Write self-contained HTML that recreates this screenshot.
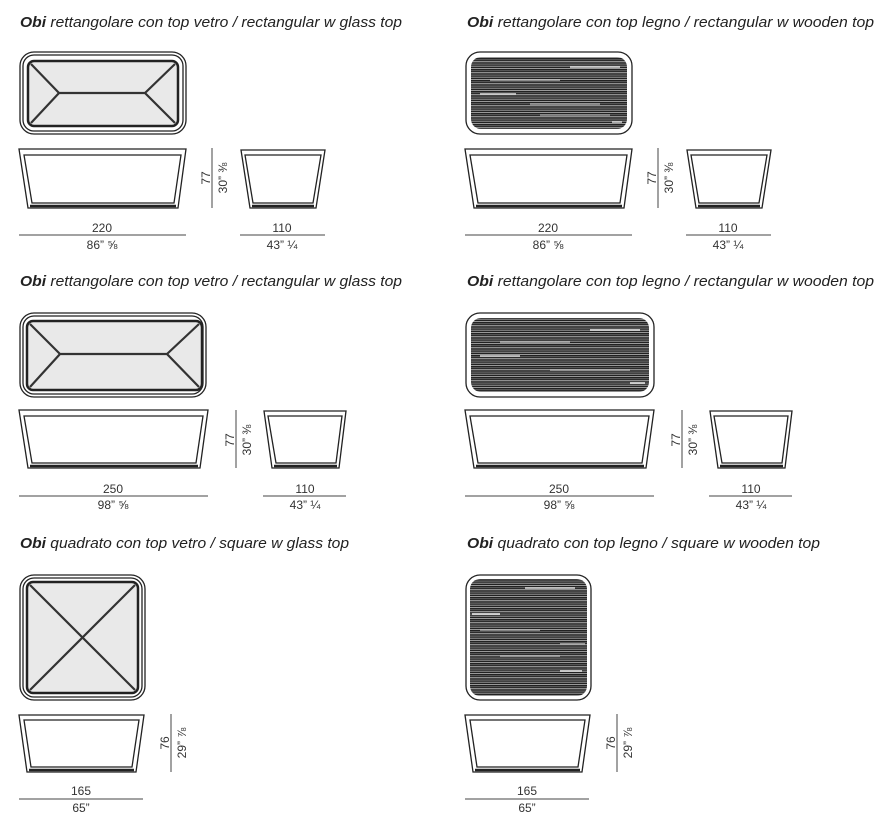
<!DOCTYPE html>
<html><head><meta charset="utf-8"><style>
html,body{margin:0;padding:0;background:#fff}
svg{display:block}
.t{font-family:"Liberation Sans",sans-serif;font-style:italic;font-size:15px;fill:#222}
.d{font-family:"Liberation Sans",sans-serif;font-size:12px;fill:#333;text-anchor:middle}
.o{fill:#fff;stroke:#222;stroke-width:1.3}
.i{fill:none;stroke:#222;stroke-width:1.3}
.dl{stroke:#444;stroke-width:1}
</style></head><body>
<svg width="892" height="827" viewBox="0 0 892 827" xmlns="http://www.w3.org/2000/svg">
<defs>
<pattern id="wd" width="12" height="11" patternUnits="userSpaceOnUse">
<rect width="12" height="11" fill="#222"/>
<rect y="0" width="12" height="1" fill="#777"/>
<rect y="2" width="12" height="1" fill="#999"/>
<rect y="4" width="12" height="1.2" fill="#555"/>
<rect y="6" width="12" height="0.8" fill="#aaa"/>
<rect y="7.5" width="12" height="1" fill="#666"/>
<rect y="9.5" width="12" height="0.8" fill="#888"/>
</pattern>
</defs>

<!-- TITLES -->
<text class="t" x="20" y="27" textLength="382" lengthAdjust="spacingAndGlyphs"><tspan font-weight="bold">Obi</tspan> rettangolare con top vetro / rectangular w glass top</text>
<text class="t" x="467" y="27" textLength="407" lengthAdjust="spacingAndGlyphs"><tspan font-weight="bold">Obi</tspan> rettangolare con top legno / rectangular w wooden top</text>
<text class="t" x="20" y="286" textLength="382" lengthAdjust="spacingAndGlyphs"><tspan font-weight="bold">Obi</tspan> rettangolare con top vetro / rectangular w glass top</text>
<text class="t" x="467" y="286" textLength="407" lengthAdjust="spacingAndGlyphs"><tspan font-weight="bold">Obi</tspan> rettangolare con top legno / rectangular w wooden top</text>
<text class="t" x="20" y="548" textLength="329" lengthAdjust="spacingAndGlyphs"><tspan font-weight="bold">Obi</tspan> quadrato con top vetro / square w glass top</text>
<text class="t" x="467" y="548" textLength="353" lengthAdjust="spacingAndGlyphs"><tspan font-weight="bold">Obi</tspan> quadrato con top legno / square w wooden top</text>

<!-- ===== SECTION 1 glass 220 ===== -->
<rect class="o" x="20" y="52" width="166" height="82" rx="14"/>
<rect class="i" x="23" y="55" width="160" height="76" rx="11"/>
<rect x="28" y="61" width="150" height="65" rx="6" fill="#e9e9e9" stroke="#222" stroke-width="2.5"/>
<g stroke="#333" stroke-width="2.2" fill="none">
<path d="M31 64 L59 93 L31 123 M59 93 L145 93 M175 64 L145 93 L175 123"/>
</g>
<!-- wood 220 -->
<rect class="o" x="466" y="52" width="166" height="82" rx="14"/>
<rect x="471" y="57" width="156" height="72" rx="10" fill="url(#wd)"/>
<g stroke="#fff" stroke-width="1.2"><line x1="570" y1="67" x2="620" y2="67"/><line x1="480" y1="94" x2="516" y2="94"/><line x1="612" y1="122" x2="622" y2="122"/><line x1="530" y1="104" x2="600" y2="104" stroke="#bbb"/><line x1="490" y1="80" x2="560" y2="80" stroke="#ccc"/><line x1="540" y1="115" x2="610" y2="115" stroke="#aaa"/></g>

<!-- side views -->
<g id="s1">
<polygon class="o" points="19,149 186,149 178,208 28,208"/>
<polygon class="i" points="24,155 181,155 174,203 32,203"/>
<line x1="30" y1="206" x2="176" y2="206" stroke="#222" stroke-width="2.5"/>
<line class="dl" x1="212" y1="148" x2="212" y2="208"/>
<text class="d" transform="translate(210,178) rotate(-90)">77</text>
<text class="d" transform="translate(227,178) rotate(-90)">30” ⅜</text>
<polygon class="o" points="241,150 325,150 316,208 250,208"/>
<polygon class="i" points="245,155 321,155 313,203 253,203"/>
<line x1="252" y1="206" x2="314" y2="206" stroke="#222" stroke-width="2.5"/>
<line class="dl" x1="19" y1="235" x2="186" y2="235"/>
<text class="d" x="102" y="232">220</text>
<text class="d" x="102" y="249">86” ⅝</text>
<line class="dl" x1="240" y1="235" x2="325" y2="235"/>
<text class="d" x="282" y="232">110</text>
<text class="d" x="282" y="249">43” ¼</text>
</g>
<use href="#s1" transform="translate(446,0)"/>

<!-- ===== SECTION 3 glass 250 ===== -->
<rect class="o" x="20" y="313" width="186" height="84" rx="14"/>
<rect class="i" x="23" y="316" width="180" height="78" rx="11"/>
<rect x="27" y="321" width="175" height="69" rx="6" fill="#e9e9e9" stroke="#222" stroke-width="2.5"/>
<g stroke="#333" stroke-width="2.2" fill="none">
<path d="M30 324 L60 354 L30 387 M60 354 L167 354 M199 324 L167 354 L199 387"/>
</g>
<rect class="o" x="466" y="313" width="188" height="84" rx="14"/>
<rect x="471" y="318" width="178" height="74" rx="10" fill="url(#wd)"/>
<g stroke="#fff" stroke-width="1.2"><line x1="590" y1="330" x2="640" y2="330"/><line x1="480" y1="356" x2="520" y2="356"/><line x1="630" y1="383" x2="645" y2="383"/><line x1="500" y1="342" x2="570" y2="342" stroke="#ccc"/><line x1="550" y1="370" x2="630" y2="370" stroke="#aaa"/></g>

<g id="s3">
<polygon class="o" points="19,410 208,410 200,468 28,468"/>
<polygon class="i" points="24,416 203,416 196,463 32,463"/>
<line x1="30" y1="466" x2="198" y2="466" stroke="#222" stroke-width="2.5"/>
<line class="dl" x1="236" y1="410" x2="236" y2="468"/>
<text class="d" transform="translate(234,440) rotate(-90)">77</text>
<text class="d" transform="translate(251,440) rotate(-90)">30” ⅜</text>
<polygon class="o" points="264,411 346,411 339,468 272,468"/>
<polygon class="i" points="268,416 342,416 336,463 276,463"/>
<line x1="274" y1="466" x2="337" y2="466" stroke="#222" stroke-width="2.5"/>
<line class="dl" x1="19" y1="496" x2="208" y2="496"/>
<text class="d" x="113" y="493">250</text>
<text class="d" x="113" y="509">98” ⅝</text>
<line class="dl" x1="263" y1="496" x2="346" y2="496"/>
<text class="d" x="305" y="493">110</text>
<text class="d" x="305" y="509">43” ¼</text>
</g>
<use href="#s3" transform="translate(446,0)"/>

<!-- ===== SECTION 5 square ===== -->
<rect class="o" x="20" y="575" width="125" height="125" rx="14"/>
<rect class="i" x="23" y="578" width="119" height="119" rx="11"/>
<rect x="27" y="582" width="111" height="111" rx="6" fill="#e9e9e9" stroke="#222" stroke-width="2.5"/>
<path d="M30 585 L135 690 M135 585 L30 690" stroke="#333" stroke-width="2.2"/>
<rect class="o" x="466" y="575" width="125" height="125" rx="14"/>
<rect x="470" y="579" width="117" height="117" rx="10" fill="url(#wd)"/>
<g stroke="#fff" stroke-width="1.2"><line x1="525" y1="588" x2="575" y2="588"/><line x1="472" y1="614" x2="500" y2="614"/><line x1="560" y1="644" x2="585" y2="644" stroke="#ccc"/><line x1="560" y1="671" x2="582" y2="671"/><line x1="480" y1="630" x2="540" y2="630" stroke="#bbb"/><line x1="500" y1="656" x2="560" y2="656" stroke="#aaa"/></g>

<g id="s5">
<polygon class="o" points="19,715 144,715 136,772 27,772"/>
<polygon class="i" points="24,720 139,720 132,767 31,767"/>
<line x1="29" y1="770" x2="134" y2="770" stroke="#222" stroke-width="2.5"/>
<line class="dl" x1="171" y1="714" x2="171" y2="772"/>
<text class="d" transform="translate(169,743) rotate(-90)">76</text>
<text class="d" transform="translate(186,743) rotate(-90)">29” ⅞</text>
<line class="dl" x1="19" y1="799" x2="143" y2="799"/>
<text class="d" x="81" y="795">165</text>
<text class="d" x="81" y="812">65”</text>
</g>
<use href="#s5" transform="translate(446,0)"/>
</svg>
</body></html>
